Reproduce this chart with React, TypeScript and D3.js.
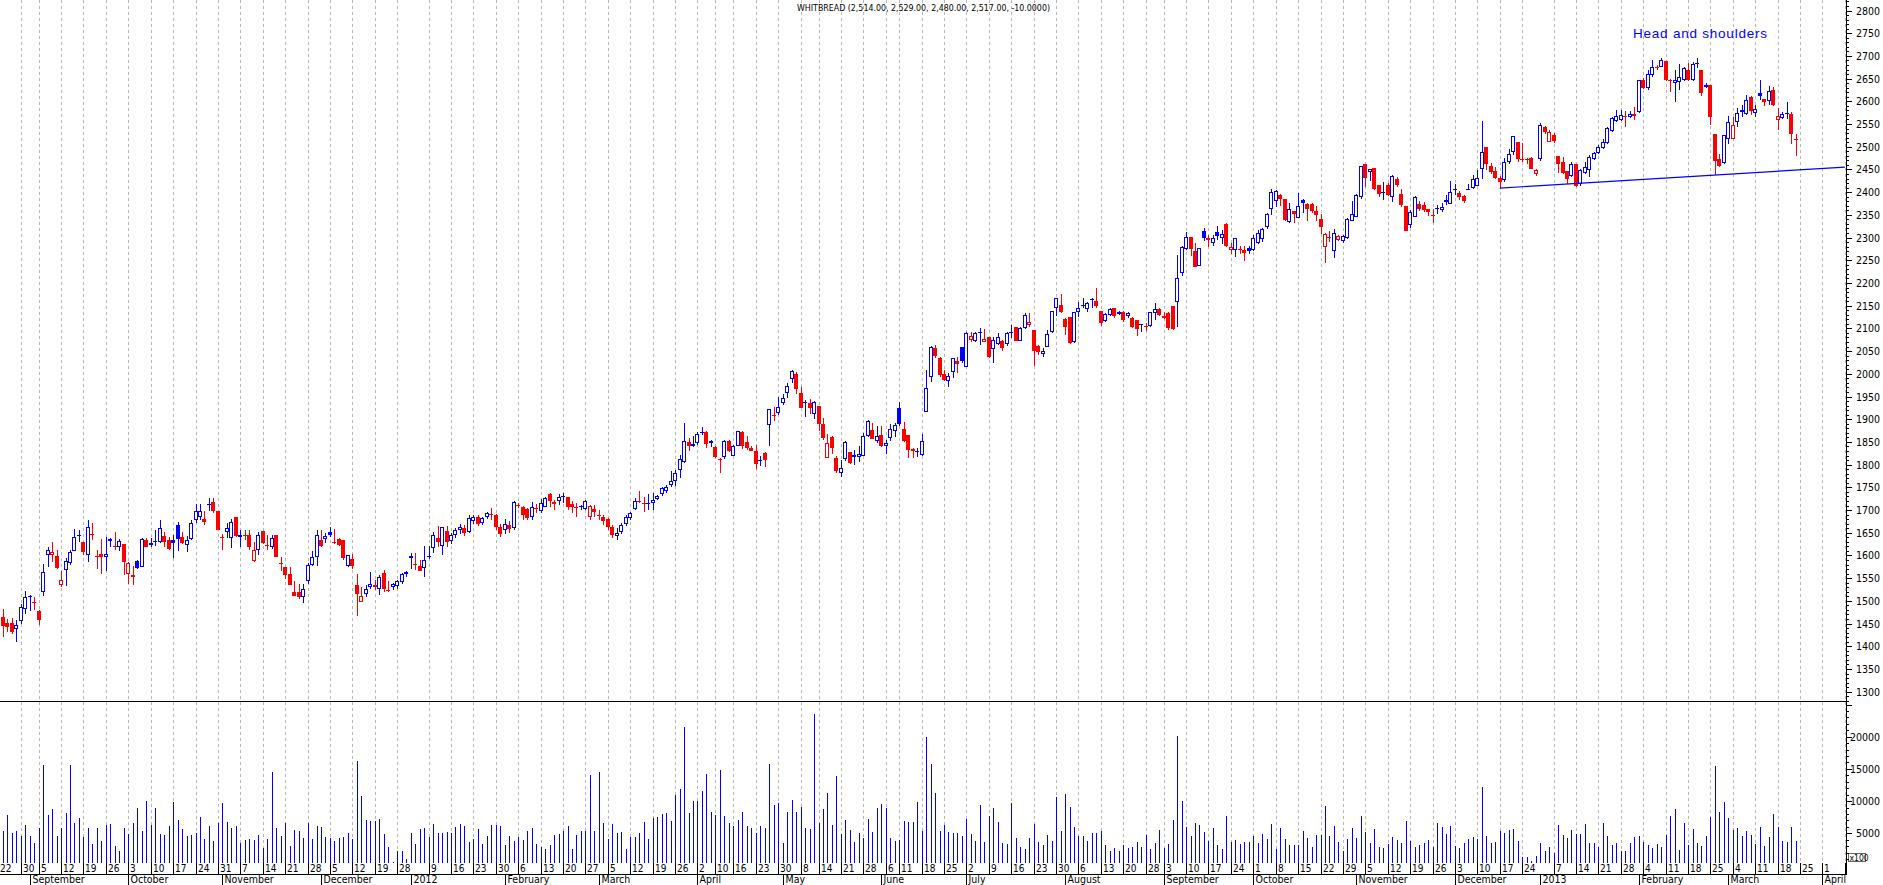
import * as d3 from "d3";
import React from "react";

// Whitbread daily candles, 22 Aug 2011 – 22 Mar 2013 (UK trading days)
const firstDay = "2011-08-22";
const ukHolidays = [
  "2011-08-29", "2011-12-26", "2011-12-27", "2012-01-02", "2012-04-06", "2012-04-09",
  "2012-05-07", "2012-06-04", "2012-06-05", "2012-08-27", "2012-12-25", "2012-12-26", "2013-01-01",
];

const opens = [
  1470,1465,1452,1452,1439,1456,1483,1511,1497,1478,1520,1602,1602,1599,1536,1568,1583,1610,1645,1629,
  1602,1648,1599,1603,1596,1632,1621,1618,1625,1560,1552,1588,1575,1635,1627,1629,1629,1643,1635,1635,
  1668,1640,1624,1636,1679,1684,1680,1714,1717,1698,1640,1652,1638,1684,1640,1644,1645,1588,1612,1654,
  1622,1619,1646,1583,1575,1559,1519,1519,1509,1544,1580,1597,1634,1636,1652,1630,1636,1634,1577,1592,
  1535,1498,1515,1531,1535,1526,1561,1525,1531,1533,1542,1559,1594,1582,1577,1573,1596,1617,1639,1621,
  1654,1632,1645,1655,1660,1652,1676,1684,1672,1685,1691,1688,1662,1655,1668,1660,1711,1706,1702,1685,
  1705,1699,1707,1735,1713,1721,1732,1728,1713,1707,1709,1703,1685,1702,1690,1685,1680,1662,1643,1652,
  1670,1682,1702,1720,1716,1714,1715,1724,1735,1741,1755,1765,1788,1805,1849,1840,1847,1870,1872,1847,
  1838,1813,1816,1853,1820,1841,1871,1849,1836,1830,1809,1825,1887,1909,1914,1935,1958,1988,1999,1957,
  1935,1935,1911,1929,1889,1814,1860,1814,1781,1812,1827,1816,1816,1820,1862,1876,1851,1865,1840,1858,
  1874,1924,1878,1865,1834,1829,1822,1915,1994,2056,2034,1999,1985,2003,2028,2058,2014,2074,2073,2089,
  2071,2080,2054,2065,2072,2065,2091,2102,2073,2100,2107,2096,2061,2043,2060,2091,2146,2151,2120,2125,
  2071,2135,2150,2142,2164,2160,2138,2117,2129,2146,2137,2137,2127,2122,2118,2107,2102,2106,2133,2142,
  2122,2133,2149,2159,2223,2275,2301,2270,2238,2314,2300,2287,2312,2298,2330,2273,2273,2274,2273,2278,
  2273,2287,2296,2323,2362,2381,2394,2386,2335,2359,2344,2383,2373,2373,2358,2340,2280,2301,2271,2295,
  2292,2298,2337,2346,2390,2462,2444,2454,2416,2401,2416,2390,2428,2397,2370,2328,2346,2375,2372,2364,
  2349,2363,2361,2383,2375,2405,2399,2392,2407,2410,2414,2450,2499,2458,2447,2432,2427,2466,2489,2511,
  2474,2473,2475,2439,2472,2543,2511,2526,2480,2467,2447,2436,2462,2419,2443,2449,2474,2487,2498,2509,
  2535,2557,2559,2568,2565,2572,2576,2648,2630,2658,2675,2676,2689,2647,2641,2642,2647,2670,2647,2685,
  2669,2636,2636,2528,2474,2465,2518,2518,2555,2582,2573,2610,2575,2618,2606,2601,2625,2559,2563,2573,
  2571,2514,
];

const highs = [
  1482,1482,1461,1463,1458,1494,1522,1514,1509,1481,1581,1619,1629,1612,1566,1594,1613,1659,1657,1630,
  1678,1671,1612,1637,1641,1639,1651,1636,1625,1586,1577,1589,1639,1638,1638,1657,1678,1652,1641,1645,
  1674,1652,1643,1678,1714,1713,1698,1726,1726,1698,1647,1671,1681,1684,1657,1657,1657,1630,1651,1654,
  1645,1645,1646,1597,1575,1575,1544,1538,1538,1584,1610,1656,1657,1649,1662,1658,1638,1634,1602,1604,
  1560,1531,1535,1563,1547,1557,1569,1544,1540,1546,1562,1566,1605,1605,1590,1621,1621,1652,1665,1662,
  1665,1650,1660,1670,1668,1690,1688,1690,1685,1696,1704,1692,1670,1680,1675,1720,1715,1708,1704,1718,
  1713,1724,1729,1738,1722,1735,1738,1728,1721,1715,1711,1722,1711,1711,1700,1688,1682,1668,1660,1672,
  1690,1696,1726,1742,1729,1735,1737,1733,1751,1755,1786,1788,1821,1892,1858,1862,1872,1882,1874,1854,
  1840,1814,1854,1854,1844,1874,1873,1864,1840,1843,1819,1828,1922,1926,1950,1955,1980,2008,2005,1970,
  1942,1944,1941,1929,1902,1867,1862,1818,1810,1852,1828,1832,1841,1870,1898,1891,1885,1884,1854,1889,
  1891,1938,1894,1865,1836,1836,1867,2008,2062,2063,2036,2008,2001,2034,2036,2058,2091,2091,2093,2100,
  2098,2082,2082,2089,2074,2093,2107,2104,2102,2133,2133,2096,2063,2056,2097,2138,2168,2176,2122,2126,
  2137,2159,2166,2159,2166,2188,2138,2133,2144,2146,2139,2139,2135,2124,2119,2110,2111,2137,2155,2144,
  2137,2135,2150,2262,2281,2312,2302,2287,2276,2322,2306,2306,2326,2317,2331,2287,2300,2281,2281,2281,
  2306,2317,2320,2355,2406,2405,2397,2386,2377,2359,2399,2384,2377,2377,2369,2352,2309,2315,2318,2306,
  2306,2342,2380,2397,2458,2462,2452,2454,2416,2423,2421,2438,2434,2408,2370,2361,2392,2381,2379,2364,
  2364,2372,2376,2394,2425,2417,2403,2394,2418,2438,2449,2557,2499,2465,2456,2436,2475,2494,2524,2511,
  2508,2476,2477,2452,2552,2546,2537,2530,2480,2477,2447,2467,2462,2452,2467,2482,2489,2504,2518,2544,
  2566,2582,2581,2579,2579,2587,2648,2651,2668,2692,2680,2696,2689,2649,2669,2683,2676,2685,2687,2695,
  2670,2640,2636,2528,2484,2526,2568,2566,2585,2592,2614,2611,2592,2647,2606,2634,2631,2585,2577,2599,
  2576,2529,
];

const lows = [
  1450,1421,1432,1427,1410,1450,1472,1478,1480,1447,1511,1575,1586,1570,1531,1533,1578,1609,1630,1601,
  1586,1634,1570,1560,1566,1619,1612,1610,1557,1537,1535,1570,1574,1618,1619,1621,1627,1619,1612,1594,
  1610,1625,1608,1634,1672,1678,1667,1698,1693,1656,1612,1638,1616,1641,1619,1635,1612,1586,1602,1625,
  1612,1614,1596,1566,1549,1535,1511,1505,1496,1538,1577,1577,1618,1628,1641,1626,1621,1591,1575,1571,
  1466,1498,1509,1527,1524,1514,1519,1520,1524,1527,1538,1553,1571,1568,1566,1553,1593,1605,1619,1601,
  1618,1625,1638,1648,1642,1650,1670,1665,1668,1680,1678,1655,1640,1648,1650,1655,1704,1678,1678,1678,
  1693,1694,1707,1707,1700,1711,1715,1700,1693,1685,1700,1700,1678,1685,1678,1668,1655,1638,1635,1648,
  1665,1678,1700,1715,1696,1701,1701,1722,1731,1738,1751,1753,1770,1803,1831,1839,1843,1865,1837,1838,
  1814,1781,1812,1827,1818,1840,1835,1832,1829,1790,1796,1794,1842,1897,1909,1931,1947,1980,1955,1924,
  1904,1911,1900,1873,1854,1814,1823,1781,1773,1809,1801,1799,1805,1818,1861,1856,1847,1838,1823,1851,
  1861,1885,1850,1815,1815,1817,1818,1915,1983,2034,1994,1985,1972,1990,2001,2024,2014,2071,2070,2063,
  2071,2034,2023,2064,2050,2061,2078,2073,2073,2098,2104,2017,2041,2038,2058,2089,2128,2134,2085,2065,
  2067,2124,2144,2137,2146,2146,2105,2115,2127,2122,2129,2113,2122,2100,2084,2091,2095,2104,2118,2127,
  2120,2096,2096,2104,2216,2273,2260,2235,2238,2292,2280,2281,2295,2285,2280,2263,2258,2263,2248,2264,
  2271,2286,2291,2319,2350,2368,2370,2336,2333,2333,2342,2355,2336,2355,2337,2308,2245,2291,2256,2292,
  2289,2297,2336,2345,2384,2412,2425,2405,2390,2383,2392,2379,2412,2368,2315,2320,2345,2359,2357,2348,
  2333,2352,2357,2372,2374,2394,2383,2377,2405,2408,2414,2430,2449,2439,2428,2408,2423,2462,2482,2467,
  2467,2461,2450,2436,2469,2528,2510,2509,2443,2440,2417,2434,2412,2414,2441,2434,2471,2485,2496,2507,
  2533,2555,2557,2543,2563,2559,2575,2627,2626,2653,2670,2675,2645,2621,2599,2625,2645,2645,2645,2673,
  2612,2629,2548,2438,2456,2463,2507,2517,2543,2566,2570,2570,2565,2603,2590,2592,2590,2537,2560,2562,
  2507,2480,
];

const closes = [
  1462,1445,1442,1432,1446,1486,1508,1509,1495,1458,1563,1612,1607,1573,1547,1588,1607,1641,1642,1608,
  1662,1646,1598,1596,1603,1636,1619,1632,1586,1584,1558,1572,1637,1619,1623,1632,1660,1630,1615,1628,
  1637,1628,1634,1671,1698,1699,1674,1712,1698,1657,1639,1660,1674,1643,1646,1643,1618,1612,1646,1628,
  1621,1638,1597,1582,1558,1536,1511,1509,1527,1579,1596,1645,1621,1643,1644,1628,1623,1594,1601,1577,
  1515,1510,1527,1538,1530,1553,1526,1524,1538,1543,1560,1564,1599,1581,1566,1590,1598,1646,1630,1662,
  1630,1645,1655,1662,1650,1682,1685,1670,1682,1693,1690,1662,1648,1670,1658,1717,1709,1690,1682,1706,
  1704,1715,1726,1721,1717,1728,1729,1707,1706,1705,1706,1721,1710,1696,1688,1675,1662,1645,1650,1668,
  1685,1693,1720,1718,1714,1716,1722,1731,1748,1750,1765,1781,1812,1851,1840,1845,1867,1871,1845,1852,
  1816,1812,1853,1829,1842,1873,1840,1836,1830,1801,1811,1810,1922,1908,1928,1946,1973,2007,1966,1925,
  1937,1925,1939,1889,1859,1847,1836,1787,1793,1849,1803,1822,1823,1862,1897,1857,1862,1841,1847,1878,
  1887,1889,1851,1832,1830,1831,1851,1968,2060,2039,1997,1986,1996,2034,2021,2029,2089,2084,2090,2091,
  2076,2038,2074,2080,2056,2089,2093,2073,2100,2129,2113,2051,2049,2050,2088,2138,2166,2137,2104,2067,
  2135,2144,2151,2157,2165,2150,2111,2131,2142,2127,2131,2118,2133,2102,2098,2109,2106,2135,2142,2129,
  2127,2100,2099,2210,2280,2301,2275,2236,2276,2300,2295,2298,2304,2307,2282,2280,2298,2273,2265,2270,
  2300,2311,2318,2351,2401,2402,2384,2339,2362,2351,2370,2377,2363,2359,2350,2324,2307,2300,2309,2303,
  2304,2340,2351,2394,2457,2432,2450,2408,2396,2398,2394,2436,2416,2372,2315,2356,2389,2362,2361,2357,
  2348,2365,2367,2379,2400,2407,2390,2381,2408,2430,2431,2489,2461,2445,2432,2422,2466,2484,2524,2472,
  2471,2470,2452,2449,2548,2533,2532,2513,2462,2443,2430,2462,2414,2449,2456,2477,2487,2499,2511,2541,
  2563,2568,2570,2567,2572,2568,2646,2629,2660,2676,2674,2692,2647,2644,2647,2654,2673,2647,2682,2683,
  2619,2632,2565,2469,2457,2526,2555,2548,2575,2577,2604,2579,2584,2612,2599,2623,2592,2568,2573,2575,
  2527,2517,
];

// volume, in hundreds of shares (axis is labelled x100)
const volumes = [
  4000,5409,7893,4994,5409,4580,6288,4580,3442,5874,15600,7893,8773,4580,5874,8152,15600,6599,7427,4477,
  5874,3390,5874,3804,6288,6495,3079,2251,5874,4839,6651,8980,5409,10067,6288,8980,4943,4788,6185,9912,
  7065,5667,4580,4788,5098,7582,4166,6185,3856,6651,9756,6806,5822,6185,3545,3908,4063,3959,4736,2717,
  4166,14500,5874,4632,6651,3079,5512,5409,4322,6651,4166,6133,6030,4425,4218,3856,4218,4477,4994,4166,
  16200,10843,7065,6910,6858,7220,4891,2924,543,2303,2303,1061,5098,3390,5719,5874,4477,6443,5098,5098,
  5253,5098,5978,6443,6185,3700,4115,5667,3390,4580,6288,6288,6185,3235,4632,3804,4373,3959,5357,5874,
  3390,2820,2614,3183,4736,4839,5357,6185,2614,4684,5409,5357,14100,5357,14500,6651,4063,6443,5098,5201,
  2614,4477,4477,5098,6806,4063,7427,7582,7945,8204,6910,10947,11879,21500,8204,10015,10015,11568,14208,8359,
  7841,14829,7686,6547,6133,7065,8359,6133,5874,4994,6185,5874,15760,9394,9756,3442,8359,10170,8359,9135,
  5771,5616,23500,6547,8773,11309,6288,13897,4891,7065,5512,3649,5098,4218,7168,5253,8980,9549,8928,4218,
  3856,3959,6961,6806,6806,9912,5356,20005,15709,11309,5408,6288,5253,4994,4994,4580,7220,4891,3856,9394,
  3701,7686,8980,6806,3442,3339,9756,4322,2924,2614,4322,6443,3701,3183,4735,3856,10688,5408,11102,9135,
  6029,4580,4580,3856,4994,4994,5356,3183,2303,2666,2303,3183,2769,2924,3649,2924,4735,2510,3545,5512,
  2769,3339,7065,20108,10015,6029,4580,6547,6288,5150,3804,5874,3183,2562,7686,3700,3959,3338,3649,3649,
  4632,3545,4891,4115,6495,2562,5771,4063,3183,3183,3183,5409,4270,2924,4736,4736,9239,4580,6133,3700,
  2303,4063,5771,4218,7686,5253,3442,5616,2924,2769,3338,4477,3959,3442,6961,3856,2924,3183,3442,3959,
  2924,6651,6030,4891,6133,3028,2665,3545,4166,4373,4063,12137,4580,3545,3700,5409,4994,5512,5616,3800,
  1268,1268,698,1500,3442,2303,2924,1992,6288,4736,4218,5512,4891,4891,6443,3545,3545,2924,6651,4580,
  3183,3545,2251,2251,3442,4373,4580,3597,3183,2665,3338,2924,4736,7686,8773,2406,6651,3183,5616,3545,
  3028,4580,7582,15500,8359,9912,7427,5511,5873,4580,5408,4735,3338,6029,3028,4477,8000,6029,3855,3700,
  6029,3855,
];

// neckline drawn by hand on the chart: [trading-day index, price]
const necklineIdx = [335, 412];
const necklinePrice = [2409, 2455];
const annotation = "Head and shoulders";

const W = 1883;
const H = 885;
const AXIS_X = 1846.5;
const SEP_Y = 701.5;
const VOL_BOTTOM = 863;
const DATE_LINE = 874.5;
const BLUE = "#0000ff";
const RED = "#ff0000";
const NARROW = "'Liberation Sans Narrow', 'Arial Narrow', 'DejaVu Sans Condensed', sans-serif";

// trading days first, then plain weekdays for the empty space on the right
function buildDays(n: number, extra: number): Date[] {
  const out: Date[] = [];
  let d = new Date(firstDay + "T00:00:00Z");
  while (out.length < n + extra) {
    const dow = d.getUTCDay();
    const iso = d.toISOString().slice(0, 10);
    if (dow !== 0 && dow !== 6 && (out.length >= n || !ukHolidays.includes(iso))) out.push(d);
    d = d3.utcDay.offset(d, 1);
  }
  return out;
}

export default function App() {
  const n = closes.length;
  const days = buildDays(n, 14);

  const x = d3.scaleLinear().domain([0, n - 1]).range([-1.7, 1795.6]);
  const py = d3.scaleLinear().domain([1300, 2800]).range([691.7, 10.5]);
  const vy = d3.scaleLinear().domain([0, 20000]).range([865.5, 736.7]);
  const col = (i: number) => Math.round(x(i));

  const slots = d3.range(days.length).filter((i) => x(i) < AXIS_X - 1);

  // week starts (skip the week that holds the new year) and month starts
  const weekKey = (i: number) => d3.utcMonday.floor(days[i]).getTime();
  const yearWeeks = new Set(
    slots.filter((i) => i > 0 && days[i].getUTCFullYear() !== days[i - 1].getUTCFullYear()).map(weekKey)
  );
  const weekStarts = slots.filter(
    (i) => (i === 0 || weekKey(i) !== weekKey(i - 1)) && !yearWeeks.has(weekKey(i))
  );
  const monthStarts = slots.filter((i) => i > 0 && days[i].getUTCMonth() !== days[i - 1].getUTCMonth());
  const monthName = d3.utcFormat("%B");

  const priceTicks = d3.range(1280, 2830, 10).filter((p) => py(p) > 1 && py(p) < SEP_Y - 0.5);
  const volTicks = d3.range(1000, 26000, 1000).filter((v) => vy(v) > SEP_Y + 1 && vy(v) < VOL_BOTTOM);

  const fmt = d3.format(",.2f");
  const last = n - 1;
  const title = `WHITBREAD (${fmt(opens[last])}, ${fmt(highs[last])}, ${fmt(lows[last])}, ${fmt(
    closes[last]
  )}, ${(closes[last] - closes[last - 1]).toFixed(4)})`;

  const neckLine = d3
    .line<number>()
    .x((_, k) => x(necklineIdx[k]))
    .y((p) => py(p))(necklinePrice);

  return (
    <svg
      width={W}
      height={H}
      style={{ position: "absolute", left: 0, top: 0, background: "#fff" }}
      shapeRendering="crispEdges"
    >
      <defs>
        <clipPath id="pricePanel">
          <rect x={0} y={0} width={AXIS_X} height={SEP_Y} />
        </clipPath>
        <clipPath id="volPanel">
          <rect x={0} y={SEP_Y + 0.5} width={AXIS_X} height={VOL_BOTTOM - SEP_Y} />
        </clipPath>
      </defs>
      <rect x={0} y={0} width={W} height={H} fill="#fff" />

      {/* weekly grid */}
      {weekStarts.map((i) => (
        <line
          key={"g" + i}
          x1={col(i) + 0.5}
          x2={col(i) + 0.5}
          y1={0}
          y2={VOL_BOTTOM}
          stroke="#b8b8b8"
          strokeDasharray="3,3"
        />
      ))}

      {/* volume */}
      <g clipPath="url(#volPanel)">
        {volumes.map((v, i) => (
          <line
            key={"v" + i}
            x1={col(i) + 0.5}
            x2={col(i) + 0.5}
            y1={vy(v)}
            y2={VOL_BOTTOM}
            stroke={BLUE}
          />
        ))}
      </g>

      {/* candles */}
      <g clipPath="url(#pricePanel)">
        {closes.map((c, i) => {
          const o = opens[i];
          const up = i === 0 ? c >= o : c >= closes[i - 1];
          const color = up ? BLUE : RED;
          const cx = col(i);
          const top = Math.round(py(Math.max(o, c)));
          const bot = Math.round(py(Math.min(o, c)));
          const h = bot - top;
          const hollow = c > o && h >= 2;
          return (
            <g key={"c" + i}>
              <line x1={cx + 0.5} x2={cx + 0.5} y1={py(highs[i])} y2={py(lows[i])} stroke={color} />
              {hollow ? (
                <rect x={cx - 1.5} y={top + 0.5} width={3} height={h - 1} fill="#fff" stroke={color} />
              ) : (
                <rect x={cx - 2} y={top} width={4} height={Math.max(1, h)} fill={color} />
              )}
            </g>
          );
        })}
        <path d={neckLine ?? ""} fill="none" stroke={BLUE} strokeWidth={1.2} shapeRendering="auto" />
      </g>

      {/* panel frame */}
      <line x1={0} x2={AXIS_X} y1={SEP_Y} y2={SEP_Y} stroke="#000" />
      <line x1={0} x2={AXIS_X} y1={DATE_LINE} y2={DATE_LINE} stroke="#000" />
      <line x1={AXIS_X} x2={AXIS_X} y1={0} y2={DATE_LINE} stroke="#000" />

      {/* price axis */}
      {priceTicks.map((p) => {
        const major = p % 50 === 0;
        const y = Math.round(py(p)) + 0.5;
        return (
          <g key={"p" + p}>
            <line x1={AXIS_X} x2={AXIS_X + (major ? 5 : 2.5)} y1={y} y2={y} stroke="#000" />
            {major && (
              <text x={1880} y={y} dy="0.35em" textAnchor="end" fontSize={10.5} fontFamily={NARROW}>
                {p}
              </text>
            )}
          </g>
        );
      })}

      {/* volume axis */}
      {volTicks.map((v) => {
        const major = v % 5000 === 0;
        const y = Math.round(vy(v)) + 0.5;
        return (
          <g key={"t" + v}>
            <line x1={AXIS_X} x2={AXIS_X + (major ? 5 : 2.5)} y1={y} y2={y} stroke="#000" />
            {major && v <= 20000 && (
              <text x={1880} y={y} dy="0.35em" textAnchor="end" fontSize={10.5} fontFamily={NARROW}>
                {v}
              </text>
            )}
          </g>
        );
      })}
      <rect x={1848.5} y={853.5} width={17} height={8} fill="#fff" stroke="#000" strokeWidth={0.6} />
      <text x={1849.5} y={860.5} fontSize={8.5} fontFamily={NARROW}>
        x100
      </text>

      {/* week row */}
      {weekStarts.map((i) => (
        <g key={"w" + i}>
          <line x1={col(i) + 0.5} x2={col(i) + 0.5} y1={VOL_BOTTOM} y2={DATE_LINE} stroke="#000" />
          {x(i) + 10 < AXIS_X && (
            <text x={col(i) + 2} y={872} fontSize={10} fontFamily={NARROW}>
              {days[i].getUTCDate()}
            </text>
          )}
        </g>
      ))}

      {/* month row */}
      {monthStarts.map((i) => (
        <g key={"m" + i}>
          <line x1={col(i) + 0.5} x2={col(i) + 0.5} y1={DATE_LINE} y2={H} stroke="#000" />
          <text x={col(i) + 2.5} y={882.5} fontSize={10.5} fontFamily={NARROW}>
            {days[i].getUTCMonth() === 0 ? days[i].getUTCFullYear() : monthName(days[i])}
          </text>
        </g>
      ))}

      <text
        x={797}
        y={10.5}
        fontSize={9}
        fontFamily={NARROW}
        textLength={253}
        lengthAdjust="spacingAndGlyphs"
      >
        {title}
      </text>
      <text
        x={1633}
        y={38}
        fontSize={13.5}
        fill={BLUE}
        fontFamily="'Liberation Sans', Arial, sans-serif"
        textLength={134}
        lengthAdjust="spacing"
      >
        {annotation}
      </text>
    </svg>
  );
}
